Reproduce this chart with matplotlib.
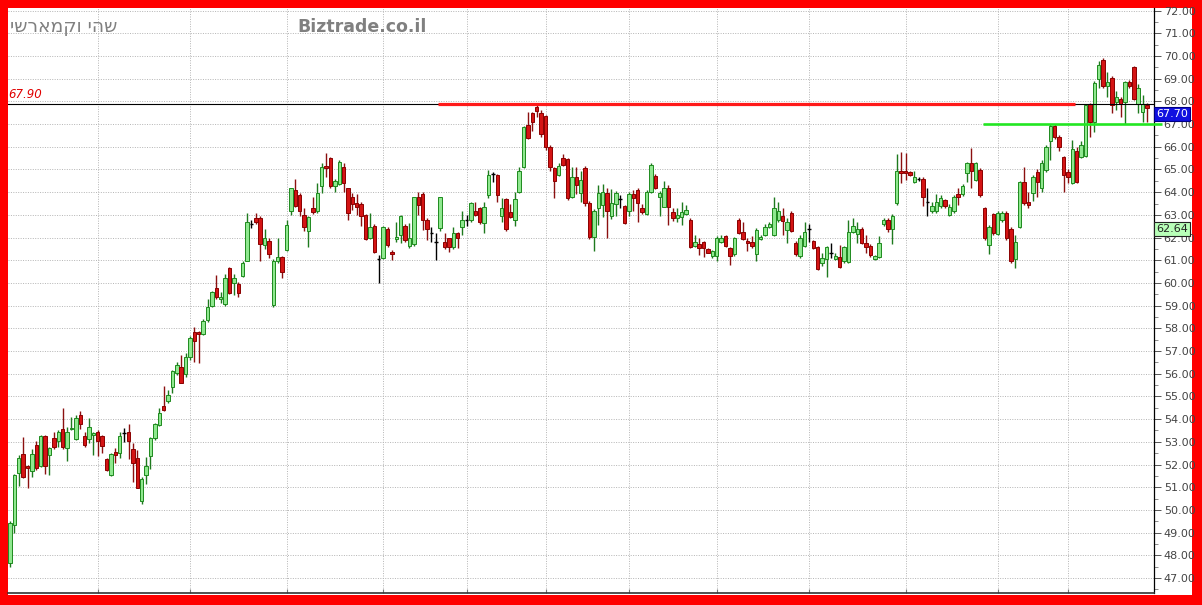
import matplotlib
matplotlib.use('Agg')
import matplotlib.pyplot as plt
import matplotlib.transforms as mtransforms
from matplotlib.patches import Rectangle
import numpy as np

# daily candles (oldest first)
opens = [47.67, 49.33, 51.63, 52.47, 51.94, 51.72, 52.86, 51.94, 53.26, 52.42,
         53.17, 53.04, 53.57, 52.73, 53.55, 53.13, 54.19, 53.26, 53.13, 53.30,
         53.44, 53.26, 52.25, 51.54, 52.56, 52.51, 53.40, 53.44, 52.69, 52.29,
         50.40, 51.54, 52.38, 53.17, 53.74, 54.58, 54.80, 55.40, 56.04, 56.30,
         55.99, 56.74, 57.84, 57.85, 57.75, 58.37, 58.99, 59.78, 59.30, 59.07,
         60.66, 60.00, 59.96, 60.31, 60.97, 62.60, 62.86, 62.86, 61.67, 61.85,
         59.03, 60.97, 61.15, 61.45, 63.17, 64.10, 63.88, 63.00, 62.29, 63.30,
         63.17, 64.27, 65.15, 65.50, 64.27, 64.36, 65.10, 64.19, 63.79, 63.52,
         63.48, 63.00, 61.98, 62.51, 61.06, 61.10, 62.38, 61.37, 61.94, 62.12,
         62.51, 61.63, 61.72, 63.79, 63.92, 62.78, 62.20, 61.80, 62.42, 61.80,
         61.98, 61.59, 62.20, 62.47, 62.78, 62.78, 63.17, 63.30, 62.64, 63.88,
         64.80, 64.76, 62.95, 63.70, 63.13, 62.78, 64.00, 65.10, 66.96, 67.49,
         67.75, 67.49, 67.35, 65.99, 65.07, 64.76, 65.50, 65.46, 63.79, 64.67,
         63.97, 65.07, 63.52, 62.03, 63.30, 63.44, 63.97, 62.95, 63.48, 63.70,
         63.39, 63.17, 63.92, 64.10, 63.30, 63.04, 64.00, 64.71, 63.79, 63.35,
         64.19, 63.13, 62.86, 62.90, 63.04, 62.78, 61.63, 61.72, 61.80, 61.50,
         61.19, 61.19, 61.80, 62.07, 61.54, 61.28, 62.78, 62.25, 61.85, 61.80,
         61.28, 61.94, 62.12, 62.47, 62.12, 62.78, 62.95, 62.33, 63.08, 61.76,
         61.19, 61.63, 62.38, 61.85, 61.59, 60.88, 61.06, 61.32, 61.06, 61.15,
         60.97, 60.93, 62.25, 62.16, 62.38, 61.76, 61.63, 61.06, 61.15, 62.60,
         62.78, 62.38, 63.52, 64.93, 64.93, 64.89, 64.45, 64.58, 64.58, 63.57,
         63.17, 63.17, 63.39, 63.66, 63.00, 63.17, 63.92, 63.92, 64.85, 65.29,
         64.54, 64.98, 63.30, 61.67, 63.04, 62.16, 62.78, 63.08, 62.38, 61.06,
         62.47, 64.45, 63.57, 63.97, 64.89, 64.19, 64.98, 66.26, 66.92, 66.43,
         65.55, 64.89, 64.40, 65.81, 65.55, 65.60, 67.89, 67.09, 68.99, 69.82,
         68.68, 69.03, 67.97, 68.10, 67.97, 68.85, 69.52, 67.89, 67.53, 67.84]
highs = [49.50, 51.60, 52.40, 53.20, 52.00, 52.70, 53.04, 53.30, 53.30, 52.78,
         53.44, 53.50, 54.50, 53.66, 54.10, 54.20, 54.36, 53.44, 54.05, 53.44,
         53.50, 53.30, 52.30, 52.50, 52.73, 53.44, 53.60, 53.79, 52.95, 52.64,
         51.45, 52.33, 53.20, 53.85, 54.50, 55.46, 55.30, 56.15, 56.50, 56.83,
         56.90, 57.65, 58.06, 57.90, 58.40, 59.30, 59.65, 60.35, 59.60, 60.40,
         60.70, 60.40, 60.05, 60.95, 63.08, 62.78, 63.08, 62.95, 62.38, 61.98,
         61.05, 61.98, 61.20, 62.78, 64.20, 64.58, 63.95, 63.30, 62.95, 63.80,
         64.40, 65.29, 65.73, 65.55, 64.60, 65.40, 65.30, 64.20, 63.97, 63.90,
         63.55, 63.05, 63.08, 62.60, 61.23, 62.50, 62.45, 61.45, 62.69, 63.00,
         62.60, 62.65, 63.80, 64.00, 64.00, 62.85, 62.47, 62.20, 63.80, 62.20,
         62.00, 62.47, 62.25, 63.17, 63.00, 63.55, 63.57, 63.35, 63.57, 64.98,
         64.89, 64.80, 63.74, 63.75, 63.50, 64.00, 65.10, 66.90, 67.53, 67.53,
         67.93, 67.60, 67.40, 66.10, 65.10, 65.30, 65.70, 65.50, 65.10, 65.10,
         64.93, 65.15, 63.60, 63.25, 64.30, 64.36, 64.20, 64.15, 64.05, 63.88,
         63.45, 64.00, 64.10, 64.20, 63.50, 64.10, 65.29, 64.80, 64.05, 64.50,
         64.30, 63.30, 63.30, 63.57, 63.45, 62.85, 62.10, 62.00, 61.85, 61.55,
         61.45, 62.05, 62.10, 62.12, 61.60, 62.03, 62.85, 62.69, 62.00, 62.05,
         62.40, 62.10, 62.60, 62.70, 63.79, 63.57, 63.30, 62.85, 63.15, 61.85,
         62.10, 62.69, 62.60, 61.90, 61.65, 61.30, 61.65, 61.76, 61.30, 61.67,
         61.65, 62.78, 62.85, 62.70, 62.45, 62.10, 61.70, 61.25, 62.05, 62.85,
         62.85, 63.05, 65.68, 65.77, 65.73, 64.95, 64.93, 64.65, 64.65, 64.19,
         63.57, 63.92, 63.88, 63.70, 63.50, 63.88, 64.19, 64.36, 65.35, 65.95,
         65.35, 65.05, 63.35, 62.55, 63.10, 63.15, 63.15, 63.15, 62.45, 62.10,
         64.50, 65.10, 64.00, 64.75, 65.00, 65.40, 66.10, 67.00, 67.00, 66.50,
         65.60, 65.00, 66.30, 66.00, 66.25, 67.90, 67.95, 68.90, 69.80, 69.90,
         69.30, 69.10, 68.45, 68.20, 68.90, 68.95, 69.55, 68.75, 68.30, 67.95]
lows = [47.50, 49.00, 51.06, 51.40, 50.97, 51.45, 51.76, 51.90, 51.59, 51.54,
        52.70, 52.78, 52.70, 52.16, 53.50, 53.07, 53.57, 52.78, 52.95, 52.42,
        52.38, 52.51, 51.70, 51.50, 52.07, 52.30, 53.00, 52.25, 51.23, 50.95,
        50.26, 51.15, 51.81, 53.10, 53.70, 54.35, 54.70, 55.17, 55.95, 55.60,
        55.86, 56.60, 56.52, 56.48, 57.70, 58.30, 58.95, 59.30, 59.10, 59.00,
        59.50, 59.47, 59.40, 60.25, 60.97, 62.40, 62.60, 60.97, 61.50, 61.10,
        58.95, 60.90, 60.22, 61.40, 63.00, 63.35, 62.95, 62.30, 61.59, 63.05,
        63.10, 63.97, 64.67, 64.20, 64.00, 64.30, 64.00, 62.78, 63.20, 63.00,
        62.50, 61.90, 61.95, 61.30, 60.00, 61.05, 61.60, 61.00, 61.80, 61.75,
        61.80, 61.55, 61.65, 63.00, 62.33, 61.89, 61.80, 61.00, 62.30, 61.50,
        61.37, 61.50, 61.55, 62.12, 62.50, 62.70, 62.95, 62.60, 62.20, 63.74,
        64.45, 63.57, 62.69, 62.30, 62.85, 62.50, 63.95, 65.05, 66.35, 66.70,
        67.30, 66.45, 65.86, 64.95, 63.74, 64.70, 65.15, 63.65, 63.75, 63.90,
        63.57, 63.40, 61.95, 61.41, 62.56, 62.90, 61.98, 62.80, 62.95, 63.30,
        62.60, 62.95, 63.17, 62.69, 63.05, 63.00, 63.95, 64.15, 62.95, 63.35,
        62.56, 62.73, 62.70, 62.56, 63.00, 61.55, 61.60, 61.23, 61.15, 61.30,
        61.10, 60.97, 61.75, 61.58, 60.79, 61.20, 62.15, 61.90, 61.41, 61.55,
        60.97, 61.90, 62.05, 62.40, 62.05, 62.70, 62.12, 61.76, 62.25, 61.20,
        61.10, 61.60, 61.80, 61.50, 60.55, 60.75, 60.26, 61.10, 61.00, 60.65,
        60.90, 60.90, 62.20, 61.76, 61.70, 61.32, 61.15, 61.00, 61.10, 62.50,
        62.25, 61.72, 63.45, 64.40, 64.54, 64.70, 64.40, 64.50, 63.39, 62.95,
        63.10, 63.10, 63.30, 63.30, 62.95, 63.10, 63.45, 63.85, 64.45, 64.20,
        64.50, 63.80, 61.90, 61.28, 62.10, 62.10, 62.70, 61.90, 60.90, 60.66,
        62.40, 63.45, 63.30, 63.60, 63.80, 64.00, 64.90, 65.42, 66.35, 65.80,
        64.00, 64.40, 64.35, 64.40, 65.50, 65.55, 66.43, 66.65, 68.60, 68.60,
        68.20, 67.49, 67.60, 67.30, 67.00, 68.60, 68.05, 67.50, 67.10, 67.10]
closes = [49.43, 51.54, 52.29, 51.45, 51.85, 52.47, 51.85, 53.26, 51.94, 52.73,
          52.78, 53.44, 52.78, 53.44, 53.60, 54.05, 53.79, 52.86, 53.66, 53.39,
          53.04, 52.82, 51.76, 52.47, 52.42, 53.26, 53.40, 53.04, 52.07, 50.97,
          51.37, 51.94, 53.17, 53.79, 54.27, 54.40, 55.07, 56.10, 56.39, 55.60,
          56.74, 57.58, 57.44, 57.75, 58.33, 58.94, 59.60, 59.38, 59.38, 60.22,
          59.56, 60.22, 59.56, 60.88, 62.69, 62.60, 62.69, 61.72, 61.98, 61.28,
          60.97, 61.15, 60.48, 62.56, 64.19, 63.40, 63.17, 62.47, 62.90, 63.13,
          63.97, 65.10, 65.07, 64.27, 64.50, 65.33, 64.40, 63.08, 63.48, 63.35,
          62.95, 61.94, 62.47, 61.37, 61.06, 62.47, 61.67, 61.28, 62.03, 62.95,
          61.89, 61.98, 63.79, 63.44, 62.78, 62.38, 62.20, 61.80, 63.79, 61.59,
          61.59, 62.20, 61.98, 62.78, 62.78, 63.52, 63.00, 62.69, 63.35, 64.76,
          64.80, 63.88, 63.30, 62.38, 62.90, 63.70, 64.93, 66.87, 66.39, 67.09,
          67.58, 66.56, 65.99, 65.11, 64.49, 65.15, 65.20, 63.74, 64.67, 64.32,
          64.54, 63.52, 62.03, 63.17, 63.97, 64.00, 63.17, 63.52, 63.97, 63.70,
          62.64, 63.92, 63.74, 63.52, 63.13, 64.00, 65.20, 64.19, 63.97, 64.19,
          63.35, 62.86, 63.00, 63.13, 63.22, 61.59, 61.80, 61.54, 61.54, 61.32,
          61.41, 61.98, 61.98, 61.63, 61.19, 61.98, 62.20, 61.94, 61.76, 61.63,
          62.33, 62.03, 62.47, 62.60, 63.30, 63.17, 62.73, 62.69, 62.29, 61.28,
          61.98, 62.25, 62.38, 61.54, 60.62, 61.10, 61.59, 61.32, 61.19, 60.70,
          61.59, 62.25, 62.51, 62.38, 61.76, 61.59, 61.23, 61.19, 61.76, 62.78,
          62.38, 62.95, 64.93, 64.85, 64.85, 64.76, 64.67, 64.58, 63.79, 63.57,
          63.39, 63.57, 63.74, 63.39, 63.35, 63.79, 63.79, 64.27, 65.29, 64.93,
          65.29, 63.88, 61.98, 62.47, 62.20, 63.08, 63.08, 61.98, 60.97, 61.80,
          64.45, 63.52, 63.44, 64.67, 64.45, 65.29, 65.99, 66.92, 66.43, 65.99,
          64.76, 64.67, 65.90, 64.45, 66.08, 67.84, 67.09, 68.81, 69.60, 68.68,
          68.85, 67.84, 68.20, 67.89, 68.85, 68.68, 68.10, 68.60, 67.89, 67.70]

month_starts = [20, 41, 63, 85, 104, 122, 141, 161, 182, 204, 225, 241]
resistance = 67.90      # red line + black level line
support = 67.00         # green line
last_price = 67.70
avg_price = 62.64

W, H = 1202, 605
fig = plt.figure(figsize=(W / 100, H / 100), dpi=100)
fig.patch.set_facecolor('#ff0000')
fig.patches.append(Rectangle((8 / W, 10 / H), 1184 / W, 587 / H,
                             transform=fig.transFigure, facecolor='white',
                             edgecolor='none', zorder=-10))

ax = fig.add_axes([8 / W, 12 / H, 1146 / W, 585 / H])
ax.set_facecolor('white')
ax.set_zorder(1)

o = np.array(opens)
h = np.array(highs)
l = np.array(lows)
c = np.array(closes)
n = len(o)
x = np.arange(n)

up = c > o
down = c < o
flat = c == o

wick_col = np.where(up, '#1e7a1e', np.where(down, '#8b1010', '#000000'))
ax.vlines(x, l, h, colors=wick_col, linewidth=1.0, zorder=3)

body_w = 0.78
ax.bar(x[up], (c - o)[up], bottom=o[up], width=body_w, color='#8fe88f',
       edgecolor='#1e8a1e', linewidth=0.7, zorder=4)
ax.bar(x[down], (o - c)[down], bottom=c[down], width=body_w, color='#d41414',
       edgecolor='#8b0000', linewidth=0.7, zorder=4)
ax.hlines(o[flat], x[flat] - body_w / 2, x[flat] + body_w / 2,
          colors='black', linewidth=1.0, zorder=4)

# horizontal level lines
ax.axhline(resistance, color='black', linewidth=0.8, zorder=5)
ax.plot([97.5, 242.6], [resistance, resistance], color='#ff1a1a',
        linewidth=2.3, solid_capstyle='butt', zorder=6)
ax.plot([221.6, 262.4], [support, support], color='#22e622',
        linewidth=1.9, solid_capstyle='butt', zorder=6, clip_on=False)
ax.text(-0.3, resistance + 0.12, '%.2f' % resistance, color='#e00000',
        fontsize=8.5, style='italic', ha='left', va='bottom', zorder=7)

ax.set_xlim(-0.45, n - 1 + 1.6)
ax.set_ylim(46.34, 72.115)

# grid
ax.set_yticks(np.arange(47, 73, 1))
ax.set_yticks(np.arange(46.5, 72.5, 1), minor=True)
ax.set_yticklabels(['%.2f' % v for v in np.arange(47, 73, 1)])
ax.set_xticks(month_starts)
ax.set_xticklabels([])
ax.grid(True, which='major', color='#b4b4b4', linestyle=(0, (1, 1.5)),
        linewidth=0.7, zorder=0)

ax.yaxis.tick_right()
ax.tick_params(axis='y', which='major', direction='out', length=5, width=0.7,
               pad=2, labelsize=8, labelcolor='#444444', color='#555555')
ax.tick_params(axis='y', which='minor', direction='out', length=3, width=0.6,
               color='#777777')
ax.tick_params(axis='x', direction='in', length=3, color='#777777')

for s in ['top', 'left']:
    ax.spines[s].set_visible(False)
ax.spines['right'].set_color('black')
ax.spines['right'].set_linewidth(0.9)
ax.spines['bottom'].set_color('#333333')
ax.spines['bottom'].set_linewidth(1.2)

# price boxes on the right axis
trans = mtransforms.blended_transform_factory(ax.transAxes, ax.transData)
ax.text(1.002, last_price - 0.26, '%.2f' % last_price, transform=trans,
        ha='left', va='center', fontsize=8, color='white', zorder=8,
        bbox=dict(boxstyle='square,pad=0.18', facecolor='#1010e0',
                  edgecolor='#000080', linewidth=0.8))
ax.text(1.002, avg_price - 0.26, '%.2f' % avg_price, transform=trans,
        ha='left', va='center', fontsize=8, color='#222222', zorder=8,
        bbox=dict(boxstyle='square,pad=0.18', facecolor='#b8ffb8',
                  edgecolor='#222222', linewidth=0.8))

# header texts
fig.text(10 / W, 1 - 27 / H, 'ישראמקו יהש', color='#808080', fontsize=13.5,
         ha='left', va='center', zorder=5)
fig.text(297 / W, 1 - 27 / H, 'Biztrade.co.il', color='#808080', fontsize=12.5,
         fontweight='bold', ha='left', va='center', zorder=5)

fig.savefig('out.png', dpi=100, facecolor=fig.get_facecolor())
